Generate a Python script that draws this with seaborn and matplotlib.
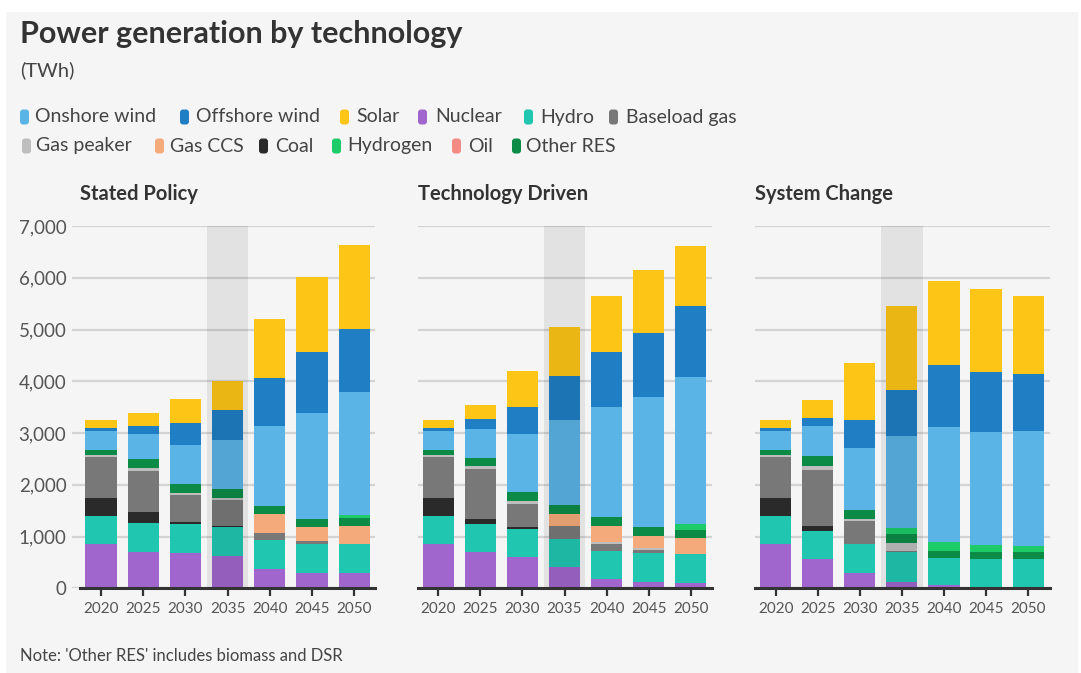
import matplotlib
matplotlib.use("Agg")
import matplotlib.pyplot as plt
from matplotlib.patches import Rectangle, FancyBboxPatch
from matplotlib.transforms import IdentityTransform
from matplotlib.ticker import FuncFormatter
import pandas as pd
import seaborn as sns

# ---------------------------------------------------------------------------
# Data (TWh). Each list holds three rows: Stated Policy, Technology Driven,
# System Change; each row has one value per year.
# ---------------------------------------------------------------------------
YEARS = ["2020", "2025", "2030", "2035", "2040", "2045", "2050"]
SCENARIOS = ["Stated Policy", "Technology Driven", "System Change"]

nuclear = [[850, 710, 685, 620, 380, 290, 290],
           [850, 705, 600, 420, 175, 115, 105],
           [850, 560, 290, 130, 65, 30, 30]]
hydro = [[550, 550, 560, 555, 555, 570, 560],
         [550, 540, 555, 540, 555, 560, 555],
         [550, 550, 570, 580, 530, 535, 530]]
coal = [[350, 215, 30, 30, 0, 0, 0],
        [350, 90, 20, 0, 0, 0, 0],
        [350, 85, 0, 0, 0, 0, 0]]
baseload_gas = [[785, 800, 535, 505, 130, 55, 0],
                [785, 970, 460, 250, 130, 65, 0],
                [785, 1085, 445, 20, 0, 0, 0]]
gas_peaker = [[35, 45, 30, 30, 0, 0, 0],
              [35, 50, 50, 0, 30, 30, 0],
              [35, 90, 40, 140, 0, 0, 0]]
gas_ccs = [[0, 0, 0, 0, 365, 260, 360],
           [0, 0, 0, 225, 315, 245, 315],
           [0, 0, 0, 0, 0, 0, 0]]
oil = [[0, 0, 0, 0, 0, 0, 0],
       [0, 0, 0, 0, 0, 0, 0],
       [0, 0, 0, 0, 0, 0, 0]]
other_res = [[100, 180, 170, 175, 160, 170, 155],
             [100, 170, 180, 180, 170, 175, 155],
             [100, 180, 175, 180, 135, 140, 150]]
hydrogen = [[0, 0, 0, 0, 0, 0, 60],
            [0, 0, 0, 0, 0, 0, 110],
            [0, 0, 0, 120, 160, 130, 110]]
onshore_wind = [[360, 490, 760, 955, 1540, 2045, 2375],
                [360, 560, 1110, 1645, 2130, 2515, 2835],
                [360, 580, 1195, 1770, 2235, 2190, 2225]]
offshore_wind = [[65, 150, 420, 575, 935, 1185, 1210],
                 [65, 180, 530, 845, 1070, 1230, 1380],
                 [65, 170, 545, 890, 1190, 1160, 1095]]
solar = [[165, 240, 475, 560, 1130, 1430, 1620],
         [165, 275, 700, 935, 1080, 1210, 1160],
         [165, 335, 1090, 1620, 1630, 1605, 1505]]

LEGEND_ROWS = [["Onshore wind", "Offshore wind", "Solar", "Nuclear", "Hydro", "Baseload gas"],
               ["Gas peaker", "Gas CCS", "Coal", "Hydrogen", "Oil", "Other RES"]]

SERIES = {
    "Nuclear": nuclear, "Hydro": hydro, "Coal": coal, "Baseload gas": baseload_gas,
    "Gas peaker": gas_peaker, "Gas CCS": gas_ccs, "Oil": oil, "Other RES": other_res,
    "Hydrogen": hydrogen, "Onshore wind": onshore_wind, "Offshore wind": offshore_wind,
    "Solar": solar,
}
STACK = ["Nuclear", "Hydro", "Coal", "Baseload gas", "Gas peaker", "Gas CCS", "Oil",
         "Other RES", "Hydrogen", "Onshore wind", "Offshore wind", "Solar"]

COLORS = {
    "Onshore wind": "#5ab4e6", "Offshore wind": "#1f7ec4", "Solar": "#fdc516",
    "Nuclear": "#a066cd", "Hydro": "#21c6b1", "Baseload gas": "#787878",
    "Gas peaker": "#bebebe", "Gas CCS": "#f5aa7b", "Coal": "#2a2a2a",
    "Hydrogen": "#1dcc69", "Oil": "#f48a84", "Other RES": "#0c8b47",
}

# Long table with cumulative tops for the stacked bars
rows = []
for si, sc in enumerate(SCENARIOS):
    for yi, yr in enumerate(YEARS):
        running = 0
        for tech in STACK:
            v = SERIES[tech][si][yi]
            running += v
            rows.append((sc, yr, tech, v, running))
df = pd.DataFrame(rows, columns=["scenario", "year", "tech", "twh", "top"])

# ---------------------------------------------------------------------------
sns.set_theme(style="white")
plt.rcParams["font.family"] = ["Lato", "DejaVu Sans"]

W, H = 1081, 673
fig = plt.figure(figsize=(W / 100, H / 100), dpi=100)
fig.patch.set_facecolor("white")
fig.add_artist(Rectangle((6 / W, 0), (W - 9) / W, (H - 12) / H,
                         transform=fig.transFigure, facecolor="#f5f5f5",
                         edgecolor="none", zorder=-10))

y0_px, y7_px = 588.3, 226.0
ax_bottom = (H - y0_px) / H
ax_height = (y0_px - y7_px) / H

panels = [
    # scenario, left px, right px, xlim, spine start, title x px
    ("Stated Policy", 72, 375, (-0.687, 6.493), -0.5, 80),
    ("Technology Driven", 417.7, 712, (-0.49, 6.506), -0.49, 418),
    ("System Change", 755, 1050, (-0.49, 6.52), -0.49, 755),
]

TXT = "#444444"
for i, (sc, lpx, rpx, xlim, spine_start, title_px) in enumerate(panels):
    ax = fig.add_axes([lpx / W, ax_bottom, (rpx - lpx) / W, ax_height])
    ax.set_facecolor("none")
    sub = df[df["scenario"] == sc]
    # Paint cumulative bars from the top layer down
    for tech in reversed(STACK):
        layer = sub[sub["tech"] == tech]
        sns.barplot(data=layer, x="year", y="top", order=YEARS, color=COLORS[tech],
                    width=0.74, saturation=1, linewidth=0, errorbar=None, ax=ax,
                    zorder=2)
    # Highlight band for 2035
    ax.axvspan(3 - 0.495, 3 + 0.495, color="black", alpha=0.075, lw=0, zorder=5)

    ax.set_xlim(*xlim)
    ax.set_ylim(0, 7000)
    ax.set_yticks(range(0, 7001, 1000))
    ax.yaxis.set_major_formatter(FuncFormatter(lambda v, p: f"{v:,.0f}"))
    ax.yaxis.grid(True, color="#d3d3d3", lw=1.6)
    ax.xaxis.grid(False)
    ax.set_axisbelow(True)
    for s in ("left", "right", "top"):
        ax.spines[s].set_visible(False)
    ax.spines["bottom"].set_color("#333333")
    ax.spines["bottom"].set_linewidth(2.2)
    ax.spines["bottom"].set_bounds(spine_start, xlim[1])
    ax.spines["bottom"].set_zorder(6)
    ax.set_xlabel("")
    ax.set_ylabel("")
    ax.tick_params(axis="x", length=6, width=1.6, color="#333333", labelsize=11,
                   labelcolor="#555555", pad=4, bottom=True)
    ax.tick_params(axis="y", length=0, labelsize=13.5, labelcolor="#555555", pad=4,
                   labelleft=(i == 0))
    fig.text(title_px / W, 1 - 194 / H, sc, fontsize=14.5, fontweight="bold",
             color="#333333", ha="left", va="center")

# Titles
fig.text(20 / W, 1 - 34 / H, "Power generation by technology", fontsize=22,
         fontweight="bold", color="#333333", ha="left", va="center")
fig.text(20 / W, 1 - 70 / H, "(TWh)", fontsize=14.5, color=TXT, ha="left", va="center")

# Legend: rounded swatches with labels
legend_pos = [
    [(20, 35), (180, 196), (340, 356), (418, 435), (524, 540), (609, 626)],
    [(22, 36), (155, 170), (259, 275), (332, 347), (452, 468), (512, 526)],
]
row_y = [117, 146]
for r, names in enumerate(LEGEND_ROWS):
    for name, (mx, tx) in zip(names, legend_pos[r]):
        yc = H - row_y[r]
        fig.add_artist(FancyBboxPatch((mx, yc - 7.5), 9, 15,
                                      boxstyle="round,pad=0,rounding_size=3",
                                      transform=IdentityTransform(),
                                      facecolor=COLORS[name], edgecolor="none"))
        fig.text(tx / W, 1 - row_y[r] / H, name, fontsize=14, color=TXT,
                 ha="left", va="center")

fig.text(20 / W, 1 - 656 / H, "Note: 'Other RES' includes biomass and DSR",
         fontsize=12, color=TXT, ha="left", va="center")

fig.savefig("out.png", dpi=100)
